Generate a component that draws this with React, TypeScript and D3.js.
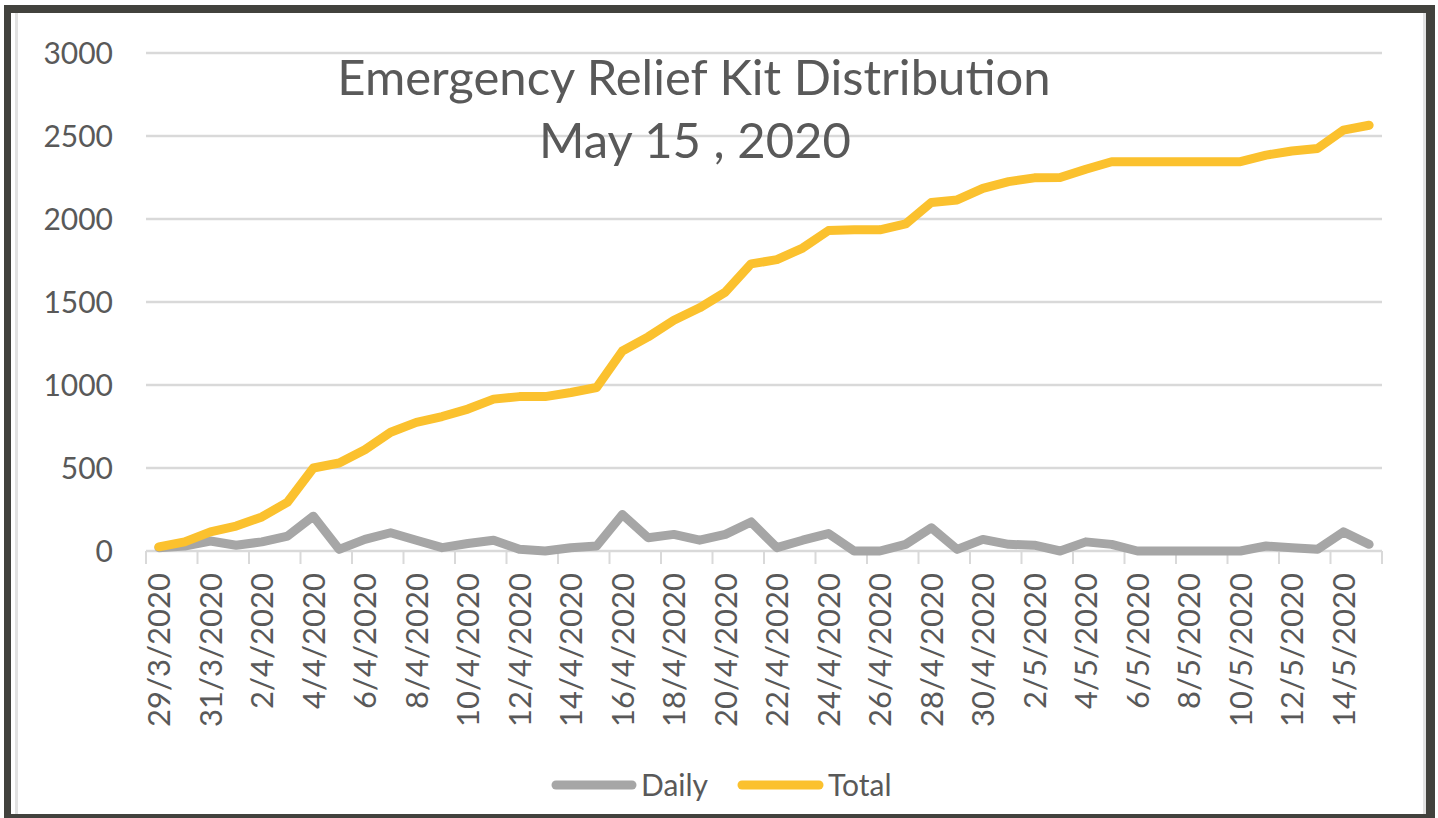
import React from "react";
import * as d3 from "d3";

// categories: one per day, 29/3/2020 .. 15/5/2020
const dates = [
  "29/3/2020", "30/3/2020", "31/3/2020", "1/4/2020", "2/4/2020", "3/4/2020",
  "4/4/2020", "5/4/2020", "6/4/2020", "7/4/2020", "8/4/2020", "9/4/2020",
  "10/4/2020", "11/4/2020", "12/4/2020", "13/4/2020", "14/4/2020", "15/4/2020",
  "16/4/2020", "17/4/2020", "18/4/2020", "19/4/2020", "20/4/2020", "21/4/2020",
  "22/4/2020", "23/4/2020", "24/4/2020", "25/4/2020", "26/4/2020", "27/4/2020",
  "28/4/2020", "29/4/2020", "30/4/2020", "1/5/2020", "2/5/2020", "3/5/2020",
  "4/5/2020", "5/5/2020", "6/5/2020", "7/5/2020", "8/5/2020", "9/5/2020",
  "10/5/2020", "11/5/2020", "12/5/2020", "13/5/2020", "14/5/2020", "15/5/2020",
];

const daily = [
  20, 30, 60, 35, 55, 90, 210, 10, 70, 110, 65, 20,
  45, 65, 10, 0, 20, 30, 220, 80, 100, 65, 100, 175,
  20, 65, 105, 0, 0, 40, 140, 10, 70, 40, 35, 0,
  55, 40, 0, 0, 0, 0, 0, 30, 20, 10, 115, 40,
];

const total = [
  25, 55, 115, 150, 205, 295, 500, 530, 610, 715, 775, 810,
  855, 915, 930, 930, 955, 985, 1205, 1290, 1390, 1465, 1560, 1730,
  1755, 1825, 1930, 1935, 1935, 1970, 2100, 2115, 2185, 2225, 2248, 2250,
  2300, 2345, 2345, 2345, 2345, 2345, 2345, 2385, 2410, 2425, 2535, 2565,
];

const yTicks = [0, 500, 1000, 1500, 2000, 2500, 3000];
const titleLines = ["Emergency Relief Kit Distribution", "May 15 , 2020"];

const W = 1438;
const H = 818;
const font = "Lato, 'Open Sans', sans-serif";
const textColor = "#595959";
const gridColor = "#d9d9d9";
const grey = "#a6a6a6";
const gold = "#fbc12e";
const frame = "#42423d";

export default function App() {
  const x = d3.scaleBand<string>().domain(dates).range([146, 1382]).padding(0);
  const y = d3.scaleLinear().domain([0, 3000]).range([551, 53]);
  const cx = (d: string) => (x(d) ?? 0) + x.bandwidth() / 2;

  const line = d3
    .line<number>()
    .x((_, i) => cx(dates[i]))
    .y((v) => y(v));

  // tick marks sit between categories, every second one plus the end
  const tickX = dates
    .filter((_, i) => i % 2 === 0)
    .map((d) => x(d) ?? 0)
    .concat([x.range()[1]]);

  const labels = dates.filter((_, i) => i % 2 === 0);

  return (
    <>
      <style>{"body{margin:0}"}</style>
      <svg width={W} height={H} style={{ display: "block", background: "#fff" }}>
        {/* frame round the screenshot */}
        <rect x={4} y={5} width={1431} height={8} fill={frame} />
        <rect x={4} y={5} width={7} height={813} fill={frame} />
        <rect x={1426} y={5} width={9} height={813} fill={frame} />
        <rect x={4} y={814} width={1431} height={4} fill={frame} />
        <rect x={15} y={13} width={3} height={801} fill="#e2e2e2" />
        <rect x={1423} y={13} width={3} height={801} fill="#e2e2e2" />

        {/* grid */}
        <g>
          {yTicks.map((t) => (
            <line
              key={t}
              x1={146}
              x2={1382}
              y1={y(t)}
              y2={y(t)}
              stroke={gridColor}
              strokeWidth={2.5}
            />
          ))}
        </g>

        {/* y labels */}
        <g fontFamily={font} fontSize={30} fill={textColor} textAnchor="end">
          {yTicks.map((t) => (
            <text key={t} x={113} y={y(t)} dy="0.36em">
              {t}
            </text>
          ))}
        </g>

        {/* x axis ticks */}
        <g stroke={gridColor} strokeWidth={2}>
          {tickX.map((tx, i) => (
            <line key={i} x1={tx} x2={tx} y1={551} y2={564} />
          ))}
        </g>

        {/* x labels */}
        <g fontFamily={font} fontSize={31} fill={textColor} textAnchor="end">
          {labels.map((d) => (
            <text key={d} transform={`translate(${cx(d)},573) rotate(-90)`} dy="0.36em">
              {d}
            </text>
          ))}
        </g>

        {/* series */}
        <path
          d={line(daily) ?? ""}
          fill="none"
          stroke={grey}
          strokeWidth={9}
          strokeLinejoin="round"
          strokeLinecap="round"
        />
        <path
          d={line(total) ?? ""}
          fill="none"
          stroke={gold}
          strokeWidth={9}
          strokeLinejoin="round"
          strokeLinecap="round"
        />

        {/* title */}
        <g fontFamily={font} fontSize={49} fill={textColor} textAnchor="middle">
          <text x={694} y={95}>{titleLines[0]}</text>
          <text x={695} y={158}>{titleLines[1]}</text>
        </g>

        {/* legend */}
        <g fontFamily={font} fontSize={30} fill={textColor}>
          <line x1={556} x2={632} y1={785} y2={785} stroke={grey} strokeWidth={9} strokeLinecap="round" />
          <text x={641} y={796}>Daily</text>
          <line x1={742} x2={819} y1={785} y2={785} stroke={gold} strokeWidth={9} strokeLinecap="round" />
          <text x={828} y={796}>Total</text>
        </g>
      </svg>
    </>
  );
}
